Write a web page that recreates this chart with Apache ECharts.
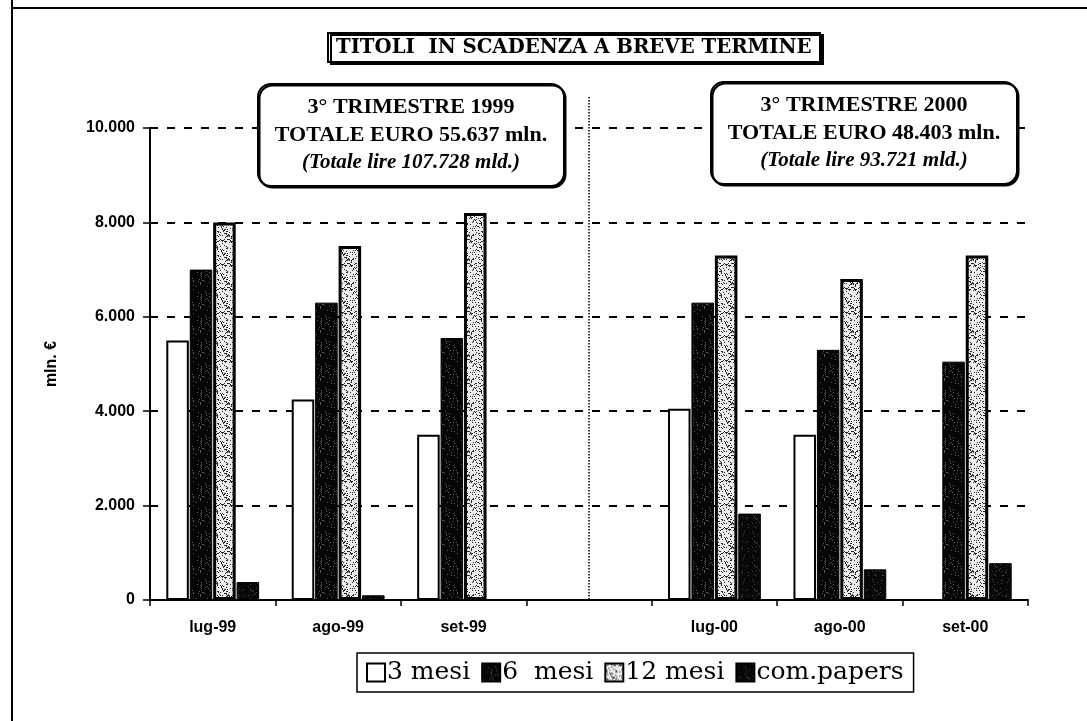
<!DOCTYPE html>
<html>
<head>
<meta charset="utf-8">
<script src="https://cdn.jsdelivr.net/npm/echarts@6/dist/echarts.min.js"></script>
<style>
  html, body { margin: 0; padding: 0; background: #fff; }
  #chart { width: 1087px; height: 721px; }
</style>
</head>
<body>
<div id="chart"></div>
<script>
// dati (mln. di euro)
const categories = ['lug-99', 'ago-99', 'set-99', '', 'lug-00', 'ago-00', 'set-00']
const mesi3 = [5500, 4250, 3500, null, 4050, 3500, 0]
const mesi6 = [7000, 6300, 5550, null, 6300, 5300, 5050]
const mesi12 = [8000, 7500, 8200, null, 7300, 6800, 7300]
const comPapers = [380, 100, 0, null, 1830, 650, 780]
const yTicks = [0, 2000, 4000, 6000, 8000, 10000]

const serif = '"Liberation Serif", "DejaVu Serif", serif'
const wideSerif = '"DejaVu Serif", "Liberation Serif", serif'
const sans = '"Liberation Sans", Arial, sans-serif'

// texture "a puntini" come nella stampa originale (hash fisso, niente random)
function speckle (bg, fg, density, seed) {
  const c = document.createElement('canvas')
  c.width = 24
  c.height = 24
  const ctx = c.getContext('2d')
  ctx.fillStyle = bg
  ctx.fillRect(0, 0, 24, 24)
  ctx.fillStyle = fg
  for (let y = 0; y < 24; y++) {
    for (let x = 0; x < 24; x++) {
      let h = Math.sin(x * 12.9898 + y * 78.233 + seed) * 43758.5453
      h = h - Math.floor(h)
      if (h < density) ctx.fillRect(x, y, 1, 1)
    }
  }
  return c
}

const chart = echarts.init(document.getElementById('chart'))

function barSeries (name, data, itemStyle) {
  return {
    name: name,
    type: 'bar',
    data: data,
    barGap: '4%',
    barCategoryGap: '26%',
    itemStyle: itemStyle,
    emphasis: { disabled: true }
  }
}

const options = {
  backgroundColor: '#fff',
  animation: false,
  title: {
    text: 'TITOLI  IN SCADENZA A BREVE TERMINE',
    left: 328,
    top: 33,
    padding: [4, 9, 3, 8],
    backgroundColor: '#fff',
    borderColor: '#000',
    borderWidth: 2,
    shadowColor: '#000',
    shadowOffsetX: 3,
    shadowOffsetY: 2,
    textStyle: {
      fontFamily: wideSerif,
      fontWeight: 'bold',
      fontSize: 19.7,
      lineHeight: 22,
      color: '#000'
    }
  },
  grid: {
    left: 150,
    right: 59,
    top: 128,
    bottom: 121
  },
  legend: {
    left: 357,
    top: 653,
    padding: [7, 10, 7, 9],
    itemGap: 11,
    itemWidth: 18,
    itemHeight: 18,
    borderColor: '#000',
    borderWidth: 1.5,
    icon: 'rect',
    selectedMode: false,
    textStyle: {
      fontFamily: wideSerif,
      fontSize: 25,
      color: '#000',
      padding: [0, 0, 0, -3]
    },
    formatter: function (name) {
      return name === '6 mesi' ? '6  mesi' : name
    },
    data: ['3 mesi', '6 mesi', '12 mesi', 'com.papers']
  },
  xAxis: {
    type: 'category',
    data: categories,
    axisLine: { lineStyle: { color: '#000', width: 2 } },
    axisTick: { show: true, length: 6, lineStyle: { color: '#000', width: 1.5 } },
    axisLabel: {
      margin: 20,
      fontFamily: sans,
      fontWeight: 'bold',
      fontSize: 16,
      color: '#000'
    },
    splitLine: { show: false }
  },
  yAxis: {
    type: 'value',
    min: 0,
    max: 10000,
    interval: 2000,
    name: 'mln. €',
    nameLocation: 'middle',
    nameRotate: 90,
    nameGap: 90,
    nameTextStyle: {
      fontFamily: sans,
      fontWeight: 'bold',
      fontSize: 16,
      color: '#000'
    },
    axisLine: { show: true, lineStyle: { color: '#000', width: 2 } },
    axisTick: { show: true, length: 7, lineStyle: { color: '#000', width: 1.5 } },
    axisLabel: {
      margin: 15,
      fontFamily: sans,
      fontWeight: 'bold',
      fontSize: 16,
      color: '#000',
      formatter: function (v) {
        return yTicks.indexOf(v) >= 0 ? v.toLocaleString('it-IT').replace(/\s/g, '.') : ''
      }
    },
    splitLine: {
      show: true,
      lineStyle: { color: '#000', width: 2, type: [8, 9] }
    }
  },
  series: [
    barSeries('3 mesi', mesi3, { color: '#fff', borderColor: '#000', borderWidth: 2 }),
    barSeries('6 mesi', mesi6, {
      color: { image: speckle('#060606', '#5a5a5a', 0.07, 3), repeat: 'repeat' },
      borderColor: '#000',
      borderWidth: 1
    }),
    barSeries('12 mesi', mesi12, {
      color: { image: speckle('#ececec', '#2a2a2a', 0.2, 7), repeat: 'repeat' },
      borderColor: '#000',
      borderWidth: 3
    }),
    barSeries('com.papers', comPapers, {
      color: { image: speckle('#080808', '#444', 0.05, 11), repeat: 'repeat' },
      borderColor: '#000',
      borderWidth: 1
    })
  ]
}

chart.setOption(options)

// riquadri di commento e linea di separazione tra i due trimestri
function noteBox (x, y, lines) {
  const children = [{
    type: 'rect',
    shape: { x: 0, y: 0, width: 306, height: 102, r: 13 },
    style: { fill: '#fff', stroke: '#000', lineWidth: 2, shadowColor: '#000', shadowOffsetX: 1.5, shadowOffsetY: 1.5 }
  }]
  lines.forEach(function (l, i) {
    children.push({
      type: 'text',
      style: {
        x: 153,
        y: 23 + i * 28,
        text: l,
        align: 'center',
        verticalAlign: 'middle',
        fill: '#000',
        fontFamily: serif,
        fontWeight: 'bold',
        fontStyle: i === 2 ? 'italic' : 'normal',
        fontSize: i === 2 ? 21 : 22
      }
    })
  })
  return { type: 'group', x: x, y: y, children: children }
}

const sepX = chart.convertToPixel({ xAxisIndex: 0 }, 3)
const baseY = chart.convertToPixel({ yAxisIndex: 0 }, 0)

chart.setOption({
  graphic: [
    { type: 'line', shape: { x1: 12, y1: 0, x2: 12, y2: 721 }, style: { stroke: '#000', lineWidth: 2 } },
    { type: 'line', shape: { x1: 12, y1: 8, x2: 1087, y2: 8 }, style: { stroke: '#000', lineWidth: 2 } },
    {
      type: 'line',
      shape: { x1: sepX, y1: 97, x2: sepX, y2: baseY },
      style: { stroke: '#000', lineWidth: 1.5, lineDash: [1.5, 1.5] }
    },
    noteBox(258, 84, ['3° TRIMESTRE 1999', 'TOTALE EURO 55.637 mln.', '(Totale lire 107.728 mld.)']),
    noteBox(711, 82, ['3° TRIMESTRE 2000', 'TOTALE EURO 48.403 mln.', '(Totale lire 93.721 mld.)'])
  ]
})

window.addEventListener('resize', function () {
  chart.resize()
})
</script>
</body>
</html>
